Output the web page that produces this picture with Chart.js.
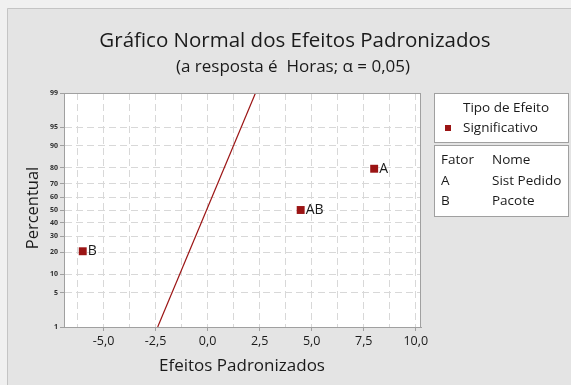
<!DOCTYPE html>
<html>
<head>
<meta charset="utf-8">
<script src="https://cdn.jsdelivr.net/npm/chart.js@4/dist/chart.umd.min.js"></script>
<style>
  html, body { margin: 0; padding: 0; background: #f0f0f0; }
  #wrap { width: 571px; height: 385px; }
</style>
</head>
<body>
<div id="wrap"><canvas id="c" width="571" height="385"></canvas></div>
<script>
// Standardized effects (x) and their normal-probability percentiles (y)
const effectLabels = ['A', 'AB', 'B'];
const effectValues = [8.0, 4.47, -6.0];
const effectPercents = [79.4, 50.0, 20.6];

// Reference line of the normal fit, given by its end points
const fitLineX = [-2.4, 2.3];
const fitLinePct = [1, 99];

// Axis ticks
const percentTicks = [1, 5, 10, 20, 30, 40, 50, 60, 70, 80, 90, 95, 99];
const xTickLabels = ['-5,0', '-2,5', '0,0', '2,5', '5,0', '7,5', '10,0'];
const xTickValues = [-5, -2.5, 0, 2.5, 5, 7.5, 10];

// Legend contents
const legendTitle = 'Tipo de Efeito';
const legendItem = 'Significativo';
const factorHeader = ['Fator', 'Nome'];
const factorCodes = ['A', 'B'];
const factorNames = ['Sist Pedido', 'Pacote'];

const FONT = '"Open Sans", "Noto Sans", sans-serif';
const RED = '#9b1414';
const TEXT = '#1a1a1a';

// Inverse of the standard normal CDF (Acklam's rational approximation)
function probit(p) {
  const a = [-3.969683028665376e+01, 2.209460984245205e+02, -2.759285104469687e+02, 1.383577518672690e+02, -3.066479806614716e+01, 2.506628277459239e+00];
  const b = [-5.447609879822406e+01, 1.615858368580409e+02, -1.556989798598866e+02, 6.680131188771972e+01, -1.328068155288572e+01];
  const c = [-7.784894002430293e-03, -3.223964580411365e-01, -2.400758277161838e+00, -2.549732539343734e+00, 4.374664141464968e+00, 2.938163982120073e+00];
  const d = [7.784695709041462e-03, 3.224671290700398e-01, 2.445134137624977e+00, 3.754408661907416e+00];
  const pl = 0.02425, ph = 1 - pl;
  let q, r;
  if (p < pl) {
    q = Math.sqrt(-2 * Math.log(p));
    return (((((c[0]*q+c[1])*q+c[2])*q+c[3])*q+c[4])*q+c[5]) / ((((d[0]*q+d[1])*q+d[2])*q+d[3])*q+1);
  }
  if (p <= ph) {
    q = p - 0.5; r = q * q;
    return (((((a[0]*r+a[1])*r+a[2])*r+a[3])*r+a[4])*r+a[5])*q / (((((b[0]*r+b[1])*r+b[2])*r+b[3])*r+b[4])*r+1);
  }
  q = Math.sqrt(-2 * Math.log(1 - p));
  return -(((((c[0]*q+c[1])*q+c[2])*q+c[3])*q+c[4])*q+c[5]) / ((((d[0]*q+d[1])*q+d[2])*q+d[3])*q+1);
}
const z = pct => probit(pct / 100);

const points = effectValues.map((v, i) => ({ x: v, y: z(effectPercents[i]) }));
const linePts = fitLineX.map((v, i) => ({ x: v, y: z(fitLinePct[i]) }));

// Background panel, plot frame, titles, point labels and legend boxes
const decor = {
  id: 'decor',
  beforeDraw(chart) {
    const ctx = chart.ctx;
    ctx.save();
    ctx.fillStyle = '#f0f0f0';
    ctx.fillRect(0, 0, chart.width, chart.height);
    ctx.fillStyle = '#e4e4e4';
    ctx.fillRect(7, 8, chart.width - 7, chart.height - 8);
    ctx.strokeStyle = '#c4c4c4';
    ctx.lineWidth = 1;
    ctx.beginPath();
    ctx.moveTo(7.5, chart.height); ctx.lineTo(7.5, 8.5); ctx.lineTo(chart.width, 8.5);
    ctx.stroke();
    const a = chart.chartArea;
    ctx.fillStyle = '#ffffff';
    ctx.fillRect(a.left, a.top, a.right - a.left, a.bottom - a.top);
    ctx.restore();
  },
  afterDraw(chart) {
    const ctx = chart.ctx;
    const a = chart.chartArea;
    ctx.save();
    ctx.strokeStyle = '#a0a0a0';
    ctx.lineWidth = 1;
    ctx.strokeRect(a.left + 0.5, a.top + 0.5, a.right - a.left - 1, a.bottom - a.top);

    ctx.fillStyle = TEXT;
    ctx.textAlign = 'center';
    ctx.textBaseline = 'middle';
    ctx.font = '20.5px ' + FONT;
    ctx.fillText('Gráfico Normal dos Efeitos Padronizados', 295, 41);
    ctx.font = '17px ' + FONT;
    ctx.fillText('(a resposta é  Horas; α = 0,05)', 293, 67);
    ctx.font = '17px ' + FONT;
    ctx.fillText('Efeitos Padronizados', 242, 366);
    ctx.save();
    ctx.translate(33, 208);
    ctx.rotate(-Math.PI / 2);
    ctx.font = '16.5px ' + FONT;
    ctx.fillText('Percentual', 0, 0);
    ctx.restore();

    // point labels
    const meta = chart.getDatasetMeta(0);
    ctx.font = '14px ' + FONT;
    ctx.textAlign = 'left';
    meta.data.forEach((el, i) => {
      ctx.fillText(effectLabels[i], el.x + 5, el.y);
    });

    // legend boxes
    ctx.fillStyle = '#ffffff';
    ctx.strokeStyle = '#a0a0a0';
    ctx.fillRect(434, 93, 134, 49);
    ctx.strokeRect(434.5, 93.5, 134, 49);
    ctx.fillRect(434, 145, 134, 71);
    ctx.strokeRect(434.5, 145.5, 134, 71);
    ctx.fillStyle = TEXT;
    ctx.font = '13.5px ' + FONT;
    ctx.textAlign = 'center';
    ctx.fillText(legendTitle, 506, 108);
    ctx.textAlign = 'left';
    ctx.fillText(legendItem, 463, 128);
    ctx.fillStyle = RED;
    ctx.fillRect(445, 125, 6, 6);
    ctx.fillStyle = TEXT;
    ctx.fillText(factorHeader[0], 441, 160);
    ctx.fillText(factorHeader[1], 492, 160);
    factorCodes.forEach((code, i) => {
      ctx.fillText(code, 441, 181 + i * 20);
      ctx.fillText(factorNames[i], 492, 181 + i * 20);
    });
    ctx.restore();
  }
};

new Chart(document.getElementById('c'), {
  type: 'scatter',
  data: {
    datasets: [
      {
        data: points,
        pointStyle: 'rect',
        pointRadius: 5.6,
        pointHoverRadius: 5.6,
        backgroundColor: RED,
        borderColor: RED,
        borderWidth: 0,
        showLine: false
      },
      {
        data: linePts,
        showLine: true,
        pointRadius: 0,
        borderColor: RED,
        borderWidth: 1.2,
        fill: false
      }
    ]
  },
  options: {
    responsive: false,
    animation: false,
    events: [],
    layout: { padding: { left: 44, top: 93, right: 150, bottom: 34 } },
    plugins: { legend: { display: false }, tooltip: { enabled: false }, title: { display: false } },
    scales: {
      x: {
        type: 'linear',
        min: -6.9,
        max: 10.25,
        afterBuildTicks(scale) {
          const t = [];
          for (let v = -6.25; v <= 10.001; v += 1.25) t.push({ value: Math.round(v * 100) / 100 });
          scale.ticks = t;
        },
        afterFit(scale) { scale.height = 24; },
        ticks: {
          autoSkip: false,
          maxRotation: 0,
          padding: 3,
          color: TEXT,
          font: { family: FONT, size: 12.5 },
          callback(v) {
            const i = xTickValues.indexOf(v);
            return i >= 0 ? xTickLabels[i] : '';
          }
        },
        grid: {
          color: '#d8d8d8',
          tickLength: 4,
          tickBorderDash: [],
          tickColor: ctx => (xTickValues.indexOf(ctx.tick && ctx.tick.value) >= 0 ? '#a0a0a0' : 'rgba(0,0,0,0)')
        },
        border: { color: '#a0a0a0', width: 1, dash: [7, 4] }
      },
      y: {
        type: 'linear',
        min: z(1),
        max: z(99),
        afterBuildTicks(scale) {
          scale.ticks = percentTicks.map(p => ({ value: z(p) }));
        },
        afterFit(scale) { scale.width = 20; },
        ticks: {
          autoSkip: false,
          padding: 2,
          color: '#303030',
          font: { family: FONT, size: 7, weight: 'bold' },
          callback(v, i) { return String(percentTicks[i]); }
        },
        grid: {
          color: '#d8d8d8',
          tickLength: 4,
          tickBorderDash: [],
          tickColor: '#a0a0a0'
        },
        border: { color: '#a0a0a0', width: 1, dash: [7, 4] }
      }
    }
  },
  plugins: [decor]
});
</script>
</body>
</html>
